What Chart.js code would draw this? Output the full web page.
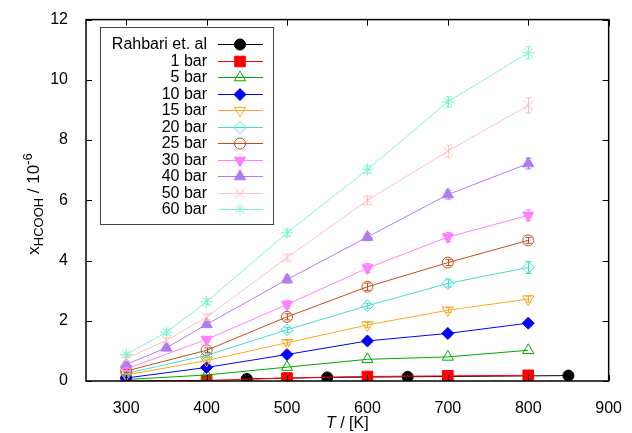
<!DOCTYPE html>
<html>
<head>
<meta charset="utf-8">
<script src="https://cdn.jsdelivr.net/npm/chart.js@4.4.1/dist/chart.umd.min.js"></script>
<style>
  body { margin: 0; background: #fff; }
  canvas { display: block; }
</style>
</head>
<body>
<canvas id="chart" width="632" height="433"></canvas>
<script>
// temperatures (K)
const temps = [300, 400, 500, 600, 700, 800];
const tempsFine = [300, 350, 400, 500, 600, 700, 800];
const rahbariTemps = [450, 550, 650, 850];
const xTicks = [300, 400, 500, 600, 700, 800, 900];

// x_HCOOH / 1e-6
const rahbari = [0.07, 0.12, 0.14, 0.18];
const bar1 = [0.0, 0.02, 0.1, 0.15, 0.17, 0.19];
const bar5 = [0.05, 0.2, 0.46, 0.72, 0.8, 1.02];
const bar10 = [0.1, 0.45, 0.88, 1.33, 1.58, 1.92];
const bar15 = [0.2, 0.68, 1.27, 1.86, 2.35, 2.72];
const bar20 = [0.25, 0.85, 1.7, 2.5, 3.24, 3.77];
const bar25 = [0.33, 1.02, 2.13, 3.13, 3.93, 4.67];
const bar30 = [0.4, 1.38, 2.54, 3.75, 4.78, 5.5];
const bar40 = [0.55, 1.1, 1.88, 3.37, 4.78, 6.19, 7.22];
const bar50 = [0.75, 1.35, 2.12, 4.1, 6.0, 7.63, 9.15];
const bar60 = [0.88, 1.62, 2.63, 4.92, 7.02, 9.27, 10.9];

// error bar half heights
const err15 = [0.03, 0.05, 0.08, 0.08, 0.08, 0.1];
const err20 = [0.04, 0.05, 0.08, 0.08, 0.12, 0.2];
const err25 = [0.05, 0.08, 0.1, 0.12, 0.1, 0.1];
const err30 = [0.05, 0.08, 0.12, 0.15, 0.15, 0.18];
const err40 = [0.06, 0.06, 0.08, 0.12, 0.12, 0.15, 0.18];
const err50 = [0.08, 0.08, 0.1, 0.12, 0.15, 0.2, 0.25];
const err60 = [0.08, 0.08, 0.1, 0.12, 0.12, 0.18, 0.2];

const series = [
  { label: 'Rahbari et. al', t: rahbariTemps, v: rahbari, color: '#000000', style: 'circle', r: 5.5, fill: true },
  { label: '1 bar', t: temps, v: bar1, color: '#ff0000', style: 'rect', r: 7.5, fill: true },
  { label: '5 bar', t: temps, v: bar5, color: '#00aa00', style: 'triangle', r: 6.5, fill: false },
  { label: '10 bar', t: temps, v: bar10, color: '#0000ff', style: 'rectRot', r: 6, fill: true },
  { label: '15 bar', t: temps, v: bar15, err: err15, color: '#ffa520', style: 'triangle', rot: 180, r: 6.5, fill: false },
  { label: '20 bar', t: temps, v: bar20, err: err20, color: '#40e0d0', style: 'rectRot', r: 6, fill: false },
  { label: '25 bar', t: temps, v: bar25, err: err25, color: '#c44e1c', style: 'circle', r: 5.5, fill: false },
  { label: '30 bar', t: temps, v: bar30, err: err30, color: '#ff80ff', style: 'triangle', rot: 180, r: 6.5, fill: true },
  { label: '40 bar', t: tempsFine, v: bar40, err: err40, color: '#b07cf0', style: 'triangle', r: 6.5, fill: true },
  { label: '50 bar', t: tempsFine, v: bar50, err: err50, color: '#ffc0c0', style: 'crossRot', r: 7, fill: false },
  { label: '60 bar', t: tempsFine, v: bar60, err: err60, color: '#7ff5cc', style: 'star', r: 6, fill: false },
];

const FONT = '"Liberation Sans", Arial, sans-serif';

const datasets = series.map((s, i) => ({
  label: s.label,
  data: s.t.map((t, j) => ({ x: t, y: s.v[j] })),
  errors: s.err,
  showLine: true,
  borderColor: s.color,
  backgroundColor: s.color,
  borderWidth: 1,
  pointStyle: s.style,
  pointRotation: s.rot || 0,
  pointRadius: s.r,
  pointBorderWidth: 1,
  pointBorderColor: s.color,
  pointBackgroundColor: s.fill ? s.color : 'rgba(0,0,0,0)',
  order: series.length - i,
}));

const gnuplotLook = {
  id: 'gnuplotLook',
  afterDatasetsDraw(chart) {
    const { ctx, chartArea: a, scales: { x, y } } = chart;

    // error bars
    chart.data.datasets.forEach((ds) => {
      if (!ds.errors) return;
      ctx.save();
      ctx.strokeStyle = ds.borderColor;
      ctx.lineWidth = 1;
      ds.data.forEach((p, j) => {
        const e = ds.errors[j];
        if (!e) return;
        const px = Math.round(x.getPixelForValue(p.x)) + 0.5;
        const y1 = y.getPixelForValue(p.y - e);
        const y2 = y.getPixelForValue(p.y + e);
        ctx.beginPath();
        ctx.moveTo(px, y1); ctx.lineTo(px, y2);
        ctx.moveTo(px - 3, y1); ctx.lineTo(px + 3, y1);
        ctx.moveTo(px - 3, y2); ctx.lineTo(px + 3, y2);
        ctx.stroke();
      });
      ctx.restore();
    });

    // frame + inward ticks
    ctx.save();
    ctx.strokeStyle = '#000';
    ctx.lineWidth = 1.5;
    ctx.strokeRect(a.left, a.top, a.right - a.left, a.bottom - a.top);
    ctx.lineWidth = 1;
    ctx.beginPath();
    xTicks.forEach((v) => {
      const px = Math.round(x.getPixelForValue(v)) + 0.5;
      ctx.moveTo(px, a.bottom); ctx.lineTo(px, a.bottom - 6);
      ctx.moveTo(px, a.top); ctx.lineTo(px, a.top + 6);
    });
    for (let v = 0; v <= 12; v += 2) {
      const py = Math.round(y.getPixelForValue(v)) + 0.5;
      ctx.moveTo(a.left, py); ctx.lineTo(a.left + 6, py);
      ctx.moveTo(a.right, py); ctx.lineTo(a.right - 6, py);
    }
    ctx.stroke();

    // legend box
    const bx = 100, by = 27, bw = 173, bh = 197;
    ctx.fillStyle = '#fff';
    ctx.fillRect(bx, by, bw, bh);
    ctx.strokeStyle = '#444';
    ctx.lineWidth = 1;
    ctx.strokeRect(bx + 0.5, by + 0.5, bw, bh);
    ctx.font = '16px ' + FONT;
    ctx.textAlign = 'right';
    ctx.textBaseline = 'middle';
    series.forEach((s, i) => {
      const ry = 44 + i * 16.5;
      ctx.fillStyle = '#000';
      ctx.fillText(s.label, 207, ry + 1);
      ctx.strokeStyle = s.color;
      ctx.lineWidth = 1;
      ctx.beginPath();
      ctx.moveTo(218, Math.round(ry) + 0.5);
      ctx.lineTo(263, Math.round(ry) + 0.5);
      ctx.stroke();
      ctx.fillStyle = s.fill ? s.color : 'rgba(0,0,0,0)';
      Chart.helpers.drawPoint(ctx, {
        pointStyle: s.style, rotation: s.rot || 0, radius: s.r, borderWidth: 1,
      }, 240, Math.round(ry) + 0.5);
    });
    ctx.restore();
  },
  afterDraw(chart) {
    const { ctx, chartArea: a } = chart;
    ctx.save();
    ctx.fillStyle = '#000';
    ctx.textBaseline = 'alphabetic';
    ctx.textAlign = 'left';

    // x title: T / [K]
    ctx.font = 'italic 16px ' + FONT;
    const wT = ctx.measureText('T').width;
    ctx.font = '16px ' + FONT;
    const wRest = ctx.measureText(' / [K]').width;
    let sx = (a.left + a.right) / 2 - (wT + wRest) / 2;
    ctx.font = 'italic 16px ' + FONT;
    ctx.fillText('T', sx, 428);
    ctx.font = '16px ' + FONT;
    ctx.fillText(' / [K]', sx + wT, 428);

    // y title: x_HCOOH / 10^-6
    const parts = [
      { t: 'x', f: '17px ', dy: 0 },
      { t: 'HCOOH', f: '13px ', dy: 4 },
      { t: ' / 10', f: '17px ', dy: 0 },
      { t: '-6', f: '13px ', dy: -7 },
    ];
    let total = 0;
    parts.forEach((p) => { ctx.font = p.f + FONT; p.w = ctx.measureText(p.t).width; total += p.w; });
    ctx.translate(39, 204);
    ctx.rotate(-Math.PI / 2);
    let cx = -total / 2;
    parts.forEach((p) => {
      ctx.font = p.f + FONT;
      ctx.fillText(p.t, cx, p.dy);
      cx += p.w;
    });
    ctx.restore();
  },
};

new Chart(document.getElementById('chart').getContext('2d'), {
  type: 'scatter',
  data: { datasets },
  options: {
    responsive: false,
    animation: false,
    events: [],
    layout: { padding: { left: 0, right: 19, top: 19, bottom: 0 } },
    plugins: { legend: { display: false }, tooltip: { enabled: false } },
    scales: {
      x: {
        type: 'linear',
        min: 250,
        max: 900,
        afterBuildTicks: (s) => { s.ticks = xTicks.map((v) => ({ value: v })); },
        afterFit: (s) => { s.height = 52; },
        grid: { display: false },
        border: { display: false },
        ticks: { color: '#000', font: { family: FONT, size: 16 }, padding: 10, maxRotation: 0 },
      },
      y: {
        min: 0,
        max: 12,
        afterFit: (s) => { s.width = 86; },
        grid: { display: false },
        border: { display: false },
        ticks: { stepSize: 2, color: '#000', font: { family: FONT, size: 16 }, padding: 10 },
      },
    },
  },
  plugins: [gnuplotLook],
});
</script>
</body>
</html>
